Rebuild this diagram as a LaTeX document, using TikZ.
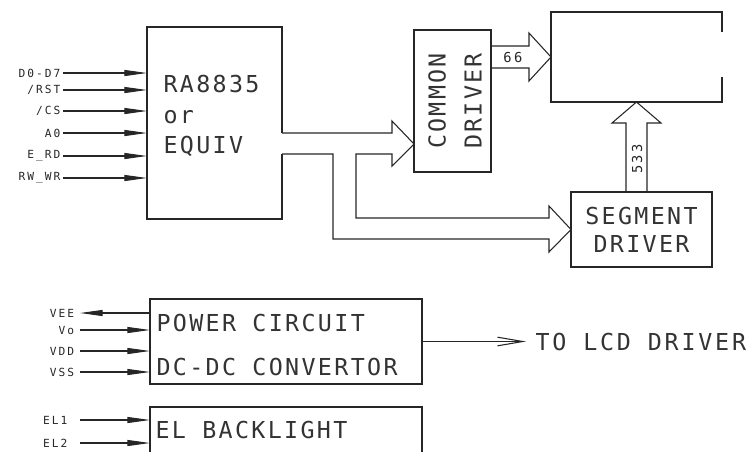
\documentclass[tikz,border=0pt]{standalone}
\usepackage{fontspec}
\newfontfamily\cadfont[LetterSpace=10]{DejaVu Sans Mono}
\newfontfamily\cadwide[LetterSpace=12]{DejaVu Sans Mono}
\newfontfamily\cadsmall[LetterSpace=18]{DejaVu Sans Mono}
\usetikzlibrary{positioning,arrows.meta,calc}

\begin{document}
\begin{tikzpicture}[
        x=0.75pt, y=-0.75pt,
        line width=0.8pt,
        box/.style={draw=black!85, inner sep=0pt, outer sep=0pt},
        frame/.style={inner sep=0pt, outer sep=0pt},
        big/.style={font=\cadfont\fontsize{17.5}{21}\selectfont, text=black!80, inner sep=0pt},
        pin/.style={font=\cadsmall\fontsize{8.4}{10}\selectfont, text=black!85, inner xsep=1.5pt, inner ysep=0pt},
        busno/.style={font=\cadsmall\fontsize{10.3}{12}\selectfont, text=black!85, inner sep=0pt},
        sig/.style={draw=black!85, -{Triangle[length=17pt, width=4.5pt]}},
        bus/.style={draw=black!85, line join=miter}
    ]
    \useasboundingbox (0,0) rectangle (751,451);
    \clip (0,0) rectangle (751,451);

    % ---- Controller ----
    \node[frame, minimum width=101.25pt, minimum height=144pt] (mcu) at (214.5,123) {};
    \draw[black!85] (mcu.east |- 0,133) |- (mcu.north west) |- (mcu.south east) -- (mcu.east |- 0,154);
    \node[big, anchor=west, align=left] (mcutxt) at (163,116) {RA8835\\[2pt]or\\[2pt]EQUIV};

    \node[pin, anchor=east] (d0) at (63,73) {D0-D7};
    \node[pin, anchor=east] (rst) at (63,90) {/RST};
    \node[pin, anchor=east] (cs) at (63,111) {/CS};
    \node[pin, anchor=east] (a0) at (63,133) {A0};
    \node[pin, anchor=east] (erd) at (63,156) {E\_RD};
    \node[pin, anchor=east] (rwwr) at (63,178) {RW\_WR};
    \foreach \p in {d0,rst,cs,a0,erd,rwwr}
        \draw[sig] (\p.east) -- (\p.east -| mcu.west);

    % ---- Drivers and panel ----
    \node[box, minimum width=57.75pt, minimum height=106.5pt] (common) at (452.5,101) {};
    \node[big, rotate=90, align=center] (commontxt) at (455,101) {COMMON\\[6pt]DRIVER};
    \node[frame, minimum width=128.25pt, minimum height=67.5pt] (lcd) at (636.5,57) {};
    \draw[black!85] (lcd.east |- 0,32) |- (lcd.north west) |- (lcd.south east) -- (lcd.east |- 0,77);
    \node[box, big, align=center, minimum width=105.75pt, minimum height=56.25pt] (seg) at (641.5,229.5) {SEGMENT\\DRIVER};

    % ---- Bus arrows ----
    \draw[bus] (mcu.east |- 0,133) -- (392,133) -- (392,121) -- (common.west |- 0,144)
        -- (392,166) -- (392,154) -- (356,154) -- (356,218) -- (549,218) -- (549,206)
        -- (seg.west) -- (549,252) -- (549,239) -- (333,239) -- (333,154) -- (mcu.east |- 0,154);
    \draw[bus] (common.east |- 0,46) -- (529,46) -- (529,33) -- (lcd.west)
        -- (529,81) -- (529,68) -- (common.east |- 0,68);
    \node[busno] (n66) at (513,57) {66};
    \draw[bus] (626,0 |- seg.north) -- (626,123) -- (612,123) -- (lcd.south)
        -- (661,123) -- (647,123) -- (647,0 |- seg.north);
    \node[busno, rotate=90] (n533) at (637,159) {533};

    % ---- Power circuit ----
    \node[box, minimum width=204pt, minimum height=63.75pt] (power) at (286,341.5) {};
    \node[big, anchor=west, align=left] (powertxt) at (156,345) {POWER CIRCUIT\\[12pt]DC-DC CONVERTOR};
    \node[pin, anchor=east, inner xsep=4pt] (vee) at (80,313) {VEE};
    \node[pin, anchor=east, inner xsep=4pt] (vo) at (80,330) {Vo};
    \node[pin, anchor=east, inner xsep=4pt] (vdd) at (80,351) {VDD};
    \node[pin, anchor=east, inner xsep=4pt] (vss) at (80,372) {VSS};
    \draw[sig] (vee.east -| power.west) -- (vee.east);
    \foreach \p in {vo,vdd,vss}
        \draw[sig] (\p.east) -- (\p.east -| power.west);
    \node[big, font=\cadwide\fontsize{17.5}{21}\selectfont, anchor=west, inner xsep=6.75pt] (tolcd) at (526,342) {TO LCD DRIVER};
    \draw[draw=black!85, -{Straight Barb[length=19pt, width=6.5pt]}] (power.east) -- (power.east -| tolcd.west);

    % ---- Backlight ----
    \node[box, minimum width=204pt, minimum height=54.75pt] (el) at (286,443.5) {};
    \node[big, anchor=west] (eltxt) at (155,430) {EL BACKLIGHT};
    \node[pin, anchor=east, inner xsep=9pt] (el1) at (80,420) {EL1};
    \node[pin, anchor=east, inner xsep=9pt] (el2) at (80,443) {EL2};
    \foreach \p in {el1,el2}
        \draw[sig] (\p.east) -- (\p.east -| el.west);
\end{tikzpicture}
\end{document}
